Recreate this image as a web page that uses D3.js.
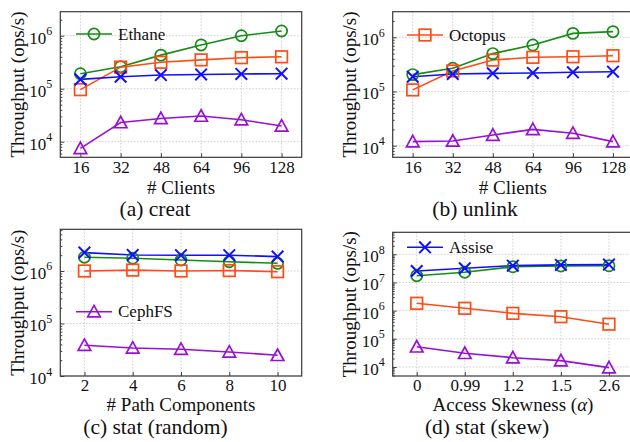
<!DOCTYPE html>
<html><head><meta charset="utf-8">
<script src="https://cdn.jsdelivr.net/npm/d3@7"></script>
<style>
body{margin:0;background:#fff;}
svg{display:block;}
</style></head>
<body><svg id="c" width="630" height="442"></svg>
<script>
// ---- data ----
const clients = ["16","32","48","64","96","128"];
const pathComponents = ["2","4","6","8","10"];
const skewness = ["0","0.99","1.2","1.5","2.6"];

const seriesNames = ["Ethane","Octopus","Assise","CephFS"];
const seriesColors = ["#168c16","#ff4b14","#1010ff","#9810d6"];
const seriesMarkers = ["circle","square","x","triangle"];

const creatEthane  = [1.92e5, 2.6e5, 4.3e5, 6.7e5, 1.0e6, 1.23e6];
const creatOctopus = [9.6e4, 2.55e5, 3.15e5, 3.5e5, 3.85e5, 4.0e5];
const creatAssise  = [1.5e5, 1.68e5, 1.81e5, 1.86e5, 1.9e5, 1.92e5];
const creatCephFS  = [7.5e3, 2.3e4, 2.75e4, 3.05e4, 2.6e4, 1.98e4];

const unlinkEthane  = [2.05e5, 2.68e5, 5.0e5, 7.2e5, 1.18e6, 1.27e6];
const unlinkOctopus = [1.07e5, 2.39e5, 3.8e5, 4.27e5, 4.38e5, 4.57e5];
const unlinkAssise  = [1.87e5, 2.1e5, 2.16e5, 2.2e5, 2.26e5, 2.32e5];
const unlinkCephFS  = [1.19e4, 1.22e4, 1.57e4, 2.0e4, 1.7e4, 1.19e4];

const statRandEthane  = [1.83e6, 1.75e6, 1.62e6, 1.5e6, 1.4e6];
const statRandOctopus = [1.0e6, 1.04e6, 1.0e6, 1.02e6, 0.97e6];
const statRandAssise  = [2.24e6, 2.02e6, 2.0e6, 2.0e6, 1.88e6];
const statRandCephFS  = [3.85e4, 3.42e4, 3.23e4, 2.87e4, 2.48e4];

const statSkewEthane  = [1.74e7, 2.3e7, 3.6e7, 3.85e7, 3.9e7];
const statSkewOctopus = [1.82e6, 1.21e6, 8.0e5, 6.1e5, 3.3e5];
const statSkewAssise  = [2.55e7, 3.2e7, 3.95e7, 4.2e7, 4.3e7];
const statSkewCephFS  = [5.2e4, 3.06e4, 2.14e4, 1.68e4, 9.5e3];

const yExpA = [4,5,6], yExpB = [4,5,6], yExpC = [4,5,6], yExpD = [4,5,6,7,8];
const yLimA = [3.706, 6.453], yLimB = [3.786, 6.472], yLimC = [4, 6.794], yLimD = [3.68, 8.78];

const titles = ["(a) creat","(b) unlink","(c) stat (random)","(d) stat (skew)"];
const xLabels = ["# Clients","# Clients","# Path Components","Access Skewness (α)"];
const yLabel = "Throughput (ops/s)";

// ---- layout ----
const FONT = "Liberation Serif, Times New Roman, Times, serif";
const panels = [
  {cats:clients, data:[creatEthane,creatOctopus,creatAssise,creatCephFS], exps:yExpA, lim:yLimA,
   x0:60.3, x1:301.7, y0:11.7, y1:157.3, legend:0, lg:{x:76,y:34}, titleX:155, labelX:181, ylabX:24, tickY:16, labelY:193.5, titleY:216},
  {cats:clients, data:[unlinkEthane,unlinkOctopus,unlinkAssise,unlinkCephFS], exps:yExpB, lim:yLimB,
   x0:392.7, x1:633, y0:11.7, y1:157.3, legend:1, lg:{x:407,y:35}, titleX:475, labelX:512.8, ylabX:356, tickY:16, labelY:193.5, titleY:216},
  {cats:pathComponents, data:[statRandEthane,statRandOctopus,statRandAssise,statRandCephFS], exps:yExpC, lim:yLimC,
   x0:60.3, x1:301.7, y0:229.3, y1:376, legend:3, lg:{x:76,y:311.7}, titleX:155.5, labelX:181, ylabX:24, tickY:15, labelY:411, titleY:434},
  {cats:skewness, data:[statSkewEthane,statSkewOctopus,statSkewAssise,statSkewCephFS], exps:yExpD, lim:yLimD,
   x0:392.7, x1:633, y0:232.3, y1:376, legend:2, lg:{x:407,y:247.3}, titleX:487, labelX:513, ylabX:356, tickY:15, labelY:411, titleY:434}
];

const svg = d3.select("#c").attr("font-family", FONT);

function drawMarker(g, type, color) {
  if (type === "circle") {
    g.append("circle").attr("r", 5.6).attr("fill","none").attr("stroke",color).attr("stroke-width",1.7);
  } else if (type === "square") {
    g.append("rect").attr("x",-5.8).attr("y",-5.8).attr("width",11.6).attr("height",11.6)
      .attr("fill","none").attr("stroke",color).attr("stroke-width",1.7);
  } else if (type === "x") {
    g.append("path").attr("d","M-5.8,-5.8L5.8,5.8M-5.8,5.8L5.8,-5.8")
      .attr("fill","none").attr("stroke",color).attr("stroke-width",2);
  } else {
    g.append("path").attr("d","M0,-6.3L6.3,5.2L-6.3,5.2Z")
      .attr("fill","none").attr("stroke",color).attr("stroke-width",1.7).attr("stroke-linejoin","miter");
  }
}

panels.forEach((p, pi) => {
  const x = d3.scalePoint().domain(p.cats).range([p.x0, p.x1]).padding(0.5);
  const y = d3.scaleLog().domain([Math.pow(10,p.lim[0]), Math.pow(10,p.lim[1])]).range([p.y1, p.y0]);
  const g = svg.append("g").attr("font-family", FONT);
  const clipId = "clip"+pi;
  svg.append("clipPath").attr("id",clipId).append("rect")
    .attr("x",p.x0).attr("y",p.y0).attr("width",p.x1-p.x0).attr("height",p.y1-p.y0);

  // grid
  const grid = g.append("g").attr("stroke","#c4c4c4").attr("stroke-width",0.8).attr("stroke-dasharray","1.6,1.6");
  p.cats.forEach(c => grid.append("line").attr("x1",x(c)).attr("x2",x(c)).attr("y1",p.y0).attr("y2",p.y1));
  p.exps.forEach(e => grid.append("line").attr("x1",p.x0).attr("x2",p.x1).attr("y1",y(Math.pow(10,e))).attr("y2",y(Math.pow(10,e))));

  // y ticks (major + minor) via axis
  const yAxis = d3.axisLeft(y).tickValues(p.exps.map(e=>Math.pow(10,e))).tickSize(-4).tickFormat("");
  g.append("g").attr("transform",`translate(${p.x0},0)`).call(yAxis)
    .call(s=>{s.select(".domain").remove(); s.selectAll("line").attr("stroke","#404040");});
  const minors = [];
  for (let e = Math.floor(p.lim[0]); e <= Math.ceil(p.lim[1]); e++) {
    for (let m = 2; m <= 9; m++) {
      const v = m*Math.pow(10,e);
      if (Math.log10(v) > p.lim[0] && Math.log10(v) < p.lim[1]) minors.push(v);
    }
  }
  const yMinor = d3.axisLeft(y).tickValues(minors).tickSize(-2).tickFormat("");
  g.append("g").attr("transform",`translate(${p.x0},0)`).call(yMinor)
    .call(s=>{s.select(".domain").remove(); s.selectAll("line").attr("stroke","#404040");});

  // y tick labels 10^e
  p.exps.forEach(e => {
    const t = g.append("text").attr("x", p.x0-8).attr("y", y(Math.pow(10,e))+8)
      .attr("text-anchor","end").attr("font-size",17).attr("fill","#111");
    t.append("tspan").text("10");
    t.append("tspan").attr("dy",-8.5).attr("font-size",12).text(String(e));
  });

  // x axis
  const xAxis = d3.axisBottom(x).tickSize(-4).tickPadding(7);
  g.append("g").attr("transform",`translate(0,${p.y1})`).call(xAxis)
    .call(s=>{
      s.attr("font-family", FONT);
      s.select(".domain").remove();
      s.selectAll("line").attr("stroke","#404040");
      s.selectAll("text").attr("font-size",17).attr("fill","#111")
        .attr("y",p.tickY).attr("dy","0");
    });

  // frame
  g.append("rect").attr("x",p.x0).attr("y",p.y0).attr("width",p.x1-p.x0).attr("height",p.y1-p.y0)
    .attr("fill","none").attr("stroke","#3a3a3a").attr("stroke-width",1.2);

  // series
  const plot = g.append("g").attr("clip-path",`url(#${clipId})`);
  const line = d3.line().x((d,i)=>x(p.cats[i])).y(d=>y(d));
  p.data.forEach((vals, si) => {
    plot.append("path").attr("d", line(vals)).attr("fill","none")
      .attr("stroke", seriesColors[si]).attr("stroke-width",1.6);
    vals.forEach((v,i) => {
      const mg = g.append("g").attr("transform",`translate(${x(p.cats[i])},${y(v)})`);
      drawMarker(mg, seriesMarkers[si], seriesColors[si]);
    });
  });

  // legend
  const li = p.legend;
  const lg = g.append("g");
  lg.append("line").attr("x1",p.lg.x).attr("x2",p.lg.x+36).attr("y1",p.lg.y).attr("y2",p.lg.y)
    .attr("stroke",seriesColors[li]).attr("stroke-width",1.6);
  const lm = lg.append("g").attr("transform",`translate(${p.lg.x+18},${p.lg.y})`);
  drawMarker(lm, seriesMarkers[li], seriesColors[li]);
  lg.append("text").attr("x",p.lg.x+42).attr("y",p.lg.y+5.5).attr("font-size",17).attr("fill","#111")
    .text(seriesNames[li]);

  // axis labels
  const xl = g.append("text").attr("x",p.labelX).attr("y",p.labelY).attr("text-anchor","middle")
    .attr("font-size",19).attr("fill","#111");
  if (pi === 3) {
    xl.append("tspan").text("Access Skewness (");
    xl.append("tspan").attr("font-style","italic").text("α");
    xl.append("tspan").text(")");
  } else xl.text(xLabels[pi]);

  g.append("text").attr("transform",`translate(${p.ylabX},${(p.y0+p.y1)/2}) rotate(-90)`)
    .attr("text-anchor","middle").attr("font-size",19).attr("fill","#111").text(yLabel);

  g.append("text").attr("x",p.titleX).attr("y",p.titleY).attr("text-anchor","middle")
    .attr("font-size",21.5).attr("fill","#111").text(titles[pi]);
});
</script></body></html>
